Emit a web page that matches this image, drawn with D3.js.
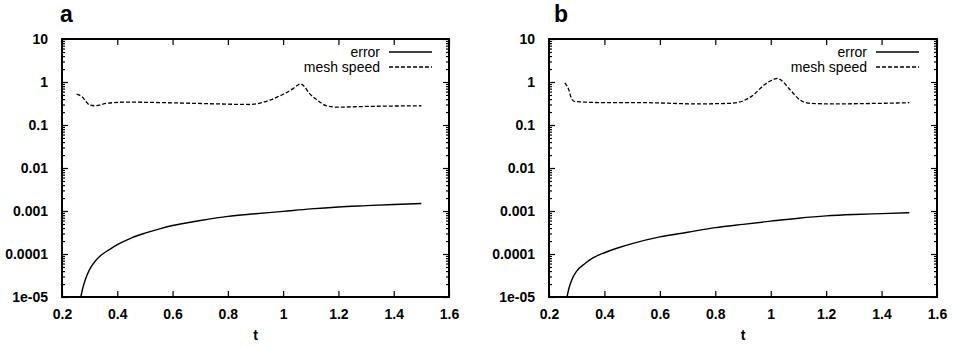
<!DOCTYPE html>
<html>
<head>
<meta charset="utf-8">
<script src="https://cdn.jsdelivr.net/npm/d3@7"></script>
<style>
  body { margin: 0; background: #fff; }
  svg { display: block; }
  .tick text { font-family: "Liberation Sans", Arial, sans-serif; font-weight: bold; font-size: 14px; fill: #000; }
</style>
</head>
<body>
<svg id="chart" width="960" height="347"></svg>
<script>
// panel a
const tErrorA = [0.268, 0.275, 0.285, 0.30, 0.32, 0.34, 0.37, 0.40, 0.45, 0.50, 0.55, 0.60, 0.70, 0.80, 0.90, 1.00, 1.10, 1.20, 1.30, 1.40, 1.50];
const errorA = [1e-5, 1.6e-5, 2.6e-5, 4.4e-5, 6.8e-5, 9.2e-5, 1.25e-4, 1.65e-4, 2.35e-4, 3.05e-4, 3.8e-4, 4.6e-4, 6.0e-4, 7.5e-4, 8.6e-4, 9.8e-4, 1.12e-3, 1.24e-3, 1.33e-3, 1.42e-3, 1.5e-3];
const tMeshA = [0.253, 0.271, 0.301, 0.319, 0.362, 0.434, 0.578, 0.759, 0.88, 0.952, 1.0, 1.037, 1.052, 1.063, 1.074, 1.093, 1.121, 1.157, 1.193, 1.30, 1.50];
const meshA = [0.52, 0.46, 0.29, 0.28, 0.32, 0.34, 0.33, 0.31, 0.30, 0.38, 0.52, 0.71, 0.84, 0.90, 0.82, 0.56, 0.39, 0.28, 0.26, 0.27, 0.28];

// panel b
const tErrorB = [0.265, 0.272, 0.282, 0.30, 0.33, 0.36, 0.40, 0.45, 0.50, 0.60, 0.70, 0.80, 0.90, 1.00, 1.10, 1.20, 1.30, 1.40, 1.50];
const errorB = [1e-5, 1.6e-5, 2.5e-5, 4.0e-5, 6.0e-5, 8.2e-5, 1.07e-4, 1.4e-4, 1.75e-4, 2.5e-4, 3.2e-4, 4.1e-4, 4.9e-4, 5.8e-4, 6.8e-4, 7.7e-4, 8.3e-4, 8.7e-4, 9.1e-4];
const tMeshB = [0.257, 0.271, 0.282, 0.294, 0.426, 0.547, 0.727, 0.86, 0.932, 0.98, 1.010, 1.024, 1.038, 1.07, 1.106, 1.142, 1.215, 1.50];
const meshB = [0.95, 0.67, 0.40, 0.35, 0.33, 0.33, 0.31, 0.32, 0.47, 0.89, 1.15, 1.22, 1.10, 0.66, 0.38, 0.32, 0.31, 0.33];

const xTicks = [0.2, 0.4, 0.6, 0.8, 1.0, 1.2, 1.4, 1.6];
const xTickLabels = ["0.2", "0.4", "0.6", "0.8", "1", "1.2", "1.4", "1.6"];
const yTicks = [10, 1, 0.1, 0.01, 0.001, 0.0001, 0.00001];
const yTickLabels = ["10", "1", "0.1", "0.01", "0.001", "0.0001", "1e-05"];
const panelLabels = ["a", "b"];
const seriesNames = ["error", "mesh speed"];

const svg = d3.select("#chart");
const font = "'Liberation Sans', Arial, sans-serif";

// minor ticks 2..9 per decade
let yMinor = [];
for (let e = -5; e < 1; e++) {
  for (let m = 2; m <= 9; m++) yMinor.push(m * Math.pow(10, e));
}

const panels = [
  { left: 62, right: 449, tE: tErrorA, err: errorA, tM: tMeshA, mesh: meshA },
  { left: 549, right: 937, tE: tErrorB, err: errorB, tM: tMeshB, mesh: meshB }
];
const plotTop = 39, plotBottom = 297;

panels.forEach(function(p, i) {
  let x = d3.scaleLinear().domain([0.2, 1.6]).range([p.left, p.right]);
  let y = d3.scaleLog().domain([1e-5, 10]).range([plotBottom, plotTop]);
  let w = p.right - p.left;
  let g = svg.append("g");

  // clip
  g.append("clipPath").attr("id", "clip" + i)
    .append("rect").attr("x", p.left).attr("y", plotTop).attr("width", w).attr("height", plotBottom - plotTop);

  // axes: major ticks inward on all four sides
  let fmtX = function(d) { return xTickLabels[xTicks.indexOf(d)]; };
  let fmtY = function(d) { return yTickLabels[yTicks.indexOf(d)]; };

  g.append("g").attr("transform", "translate(0," + plotBottom + ")")
    .call(d3.axisBottom(x).tickValues(xTicks).tickFormat(fmtX).tickSizeInner(-6).tickSizeOuter(0).tickPadding(12));
  g.append("g").attr("transform", "translate(0," + plotTop + ")")
    .call(d3.axisTop(x).tickValues(xTicks).tickFormat("").tickSizeInner(-6).tickSizeOuter(0));
  g.append("g").attr("transform", "translate(" + p.left + ",0)")
    .call(d3.axisLeft(y).tickValues(yTicks).tickFormat(fmtY).tickSizeInner(-6).tickSizeOuter(0).tickPadding(14));
  g.append("g").attr("transform", "translate(" + p.right + ",0)")
    .call(d3.axisRight(y).tickValues(yTicks).tickFormat("").tickSizeInner(-6).tickSizeOuter(0));
  g.append("g").attr("transform", "translate(" + p.left + ",0)")
    .call(d3.axisLeft(y).tickValues(yMinor).tickFormat("").tickSizeInner(-3).tickSizeOuter(0));
  g.append("g").attr("transform", "translate(" + p.right + ",0)")
    .call(d3.axisRight(y).tickValues(yMinor).tickFormat("").tickSizeInner(-3).tickSizeOuter(0));

  g.selectAll(".domain").remove();
  g.selectAll(".tick line").attr("stroke", "#000").attr("stroke-width", 1.2);

  // frame
  g.append("rect")
    .attr("x", p.left).attr("y", plotTop).attr("width", w).attr("height", plotBottom - plotTop)
    .attr("fill", "none").attr("stroke", "#000").attr("stroke-width", 2);

  // lines
  let errData = p.tE.map(function(t, k) { return { t: t, v: p.err[k] }; });
  let meshData = p.tM.map(function(t, k) { return { t: t, v: p.mesh[k] }; });
  let line = d3.line()
    .x(function(d) { return x(d.t); })
    .y(function(d) { return y(d.v); })
    .curve(d3.curveMonotoneX);

  g.append("path").attr("clip-path", "url(#clip" + i + ")")
    .attr("d", line(errData))
    .attr("fill", "none").attr("stroke", "#000").attr("stroke-width", 1.4);
  g.append("path").attr("clip-path", "url(#clip" + i + ")")
    .attr("d", line(meshData))
    .attr("fill", "none").attr("stroke", "#000").attr("stroke-width", 1.3)
    .attr("stroke-dasharray", "4,2");

  // legend
  seriesNames.forEach(function(name, k) {
    let ly = 52 + k * 15;
    g.append("text")
      .attr("x", p.left + 318).attr("y", ly + 5)
      .attr("text-anchor", "end")
      .attr("font-family", font).attr("font-size", "14px")
      .text(name);
    g.append("line")
      .attr("x1", p.left + 327).attr("x2", p.left + 370)
      .attr("y1", ly).attr("y2", ly)
      .attr("stroke", "#000").attr("stroke-width", 1.3)
      .attr("stroke-dasharray", k === 1 ? "4,2" : null);
  });

  // x axis title
  g.append("text")
    .attr("x", (p.left + p.right) / 2).attr("y", 340)
    .attr("text-anchor", "middle")
    .attr("font-family", font).attr("font-weight", "bold").attr("font-size", "14px")
    .text("t");

  // panel letter
  g.append("text")
    .attr("x", p.left - 2 + i * 7).attr("y", 22)
    .attr("font-family", font).attr("font-weight", "bold").attr("font-size", "23px")
    .text(panelLabels[i]);
});
</script>
</body>
</html>
